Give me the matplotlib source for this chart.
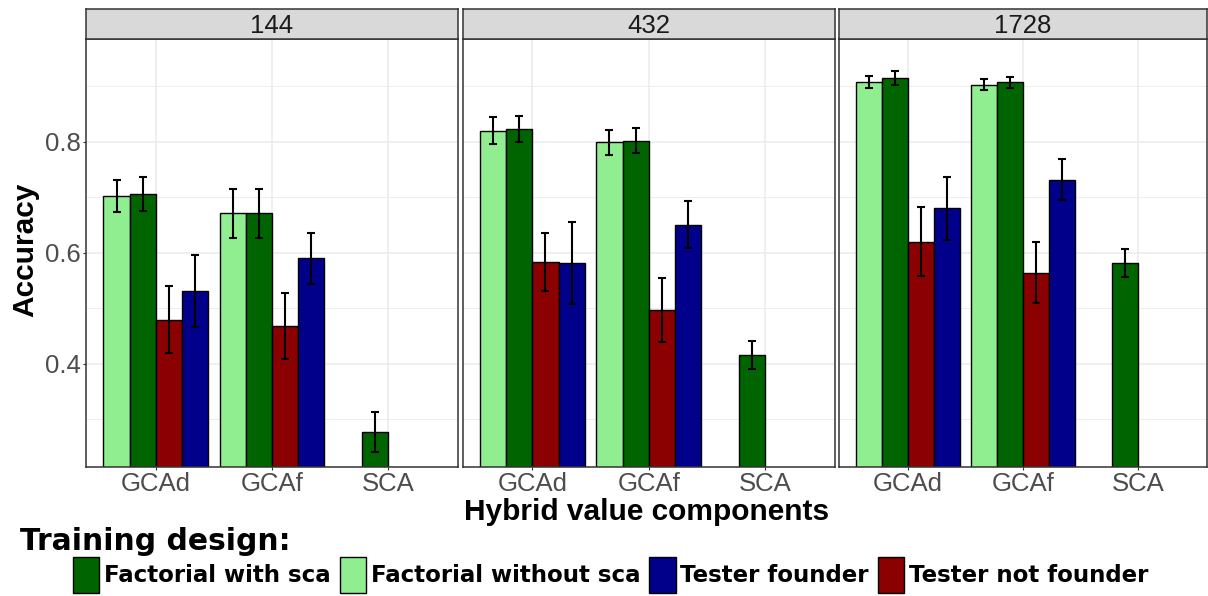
import numpy as np
import matplotlib
matplotlib.use("Agg")
import matplotlib.pyplot as plt
from matplotlib.patches import Patch

nan = np.nan

# facets (training set size) and x categories
sizes = ["144", "432", "1728"]
components = ["GCAd", "GCAf", "SCA"]

# bar order inside each group (dodge order)
designs = ["Factorial without sca", "Factorial with sca", "Tester not founder", "Tester founder"]
design_colors = {"Factorial with sca": "#006400", "Factorial without sca": "#90EE90",
                 "Tester founder": "#00008B", "Tester not founder": "#8B0000"}
legend_order = ["Factorial with sca", "Factorial without sca", "Tester founder", "Tester not founder"]

# mean accuracy, rows = sizes, cols = components
acc_fact_wo_sca = [[0.703, 0.671, nan], [0.820, 0.799, nan], [0.908, 0.903, nan]]
acc_fact_w_sca = [[0.706, 0.671, 0.278], [0.823, 0.802, 0.416], [0.915, 0.907, 0.582]]
acc_tester_nf = [[0.480, 0.468, nan], [0.583, 0.497, nan], [0.620, 0.564, nan]]
acc_tester_f = [[0.531, 0.590, nan], [0.582, 0.651, nan], [0.680, 0.732, nan]]

# half width of error bars
err_fact_wo_sca = [[0.029, 0.044, nan], [0.024, 0.023, nan], [0.011, 0.010, nan]]
err_fact_w_sca = [[0.030, 0.044, 0.036], [0.024, 0.022, 0.025], [0.012, 0.010, 0.025]]
err_tester_nf = [[0.061, 0.059, nan], [0.052, 0.057, nan], [0.062, 0.055, nan]]
err_tester_f = [[0.065, 0.046, nan], [0.074, 0.043, nan], [0.056, 0.037, nan]]

acc = {"Factorial without sca": acc_fact_wo_sca, "Factorial with sca": acc_fact_w_sca,
       "Tester not founder": acc_tester_nf, "Tester founder": acc_tester_f}
err = {"Factorial without sca": err_fact_wo_sca, "Factorial with sca": err_fact_w_sca,
       "Tester not founder": err_tester_nf, "Tester founder": err_tester_f}

W, H = 1208, 596
fig = plt.figure(figsize=(W / 100, H / 100), dpi=100)

def px(x0, y0, x1, y1):
    # pixel box (top-left origin) -> figure fraction
    return [x0 / W, 1 - y1 / H, (x1 - x0) / W, (y1 - y0) / H]

panel_x = [(86, 458), (462.5, 835), (839, 1207)]
top, bottom, strip_top = 39, 466.7, 9.3
bw = 0.225
offsets = [-1.5 * bw, -0.5 * bw, 0.5 * bw, 1.5 * bw]
xpos = np.arange(1, len(components) + 1)

for i, size in enumerate(sizes):
    x0, x1 = panel_x[i]
    ax = fig.add_axes(px(x0, top, x1, bottom))
    for j, d in enumerate(designs):
        vals = np.array(acc[d][i])
        es = np.array(err[d][i])
        ok = ~np.isnan(vals)
        xs = xpos[ok] + offsets[j]
        ax.bar(xs, vals[ok], width=bw, color=design_colors[d], edgecolor="black",
               linewidth=1.0, zorder=2)
        ax.errorbar(xs, vals[ok], yerr=es[ok], fmt="none", ecolor="black",
                    elinewidth=1.5, capsize=2.8, capthick=1.5, zorder=3)
    ax.set_xlim(0.4, 3.6)
    ax.set_ylim(0.215, 0.985)
    ax.set_xticks(xpos)
    ax.set_xticklabels(components, fontsize=18.5, color="#4D4D4D", family="Liberation Sans")
    ax.set_yticks([0.4, 0.6, 0.8])
    ax.set_yticks([0.3, 0.5, 0.7, 0.9], minor=True)
    ax.grid(which="major", color="#EBEBEB", linewidth=1.1, zorder=0)
    ax.grid(which="minor", axis="y", color="#EBEBEB", linewidth=0.6, zorder=0)
    ax.set_axisbelow(True)
    ax.tick_params(axis="x", length=2.5, color="#333333", pad=1.5)
    ax.tick_params(axis="y", which="minor", length=0)
    if i == 0:
        ax.set_yticklabels(["0.4", "0.6", "0.8"], fontsize=18.5, color="#4D4D4D",
                           family="Liberation Sans")
        ax.tick_params(axis="y", which="major", length=2.5, color="#333333", pad=1.5)
    else:
        ax.tick_params(axis="y", which="both", left=False, labelleft=False)
    for s in ax.spines.values():
        s.set_color("#333333")
        s.set_linewidth(1.1)

    # facet strip
    sax = fig.add_axes(px(x0, strip_top, x1, top))
    sax.set_facecolor("#D9D9D9")
    sax.set_xticks([])
    sax.set_yticks([])
    for s in sax.spines.values():
        s.set_color("#333333")
        s.set_linewidth(1.1)
    sax.text(0.5, 0.45, size, ha="center", va="center", fontsize=18.5, color="#1A1A1A",
             family="Liberation Sans", transform=sax.transAxes)

fig.text(25 / W, 1 - 250 / H, "Accuracy", rotation=90, ha="center", va="center",
         fontsize=21.5, fontweight="bold", family="Liberation Sans")
fig.text(647 / W, 1 - 512 / H, "Hybrid value components", ha="center", va="center",
         fontsize=21.5, fontweight="bold", family="Liberation Sans")

fig.text(20 / W, 1 - 541 / H, "Training design:", ha="left", va="center",
         fontsize=21.4, fontweight="bold", family="DejaVu Sans")

handles = [Patch(facecolor=design_colors[d], edgecolor="black", linewidth=1.0) for d in legend_order]
leg = fig.legend(handles, legend_order, loc="center left", bbox_to_anchor=(73 / W, 1 - 575 / H),
                 ncol=4, frameon=False, handlelength=1.15, handleheight=1.98,
                 handletextpad=0.2, columnspacing=0.4, borderpad=0, borderaxespad=0,
                 prop={"family": "DejaVu Sans", "weight": "bold", "size": 16.5})

fig.savefig("out.png", dpi=100)
